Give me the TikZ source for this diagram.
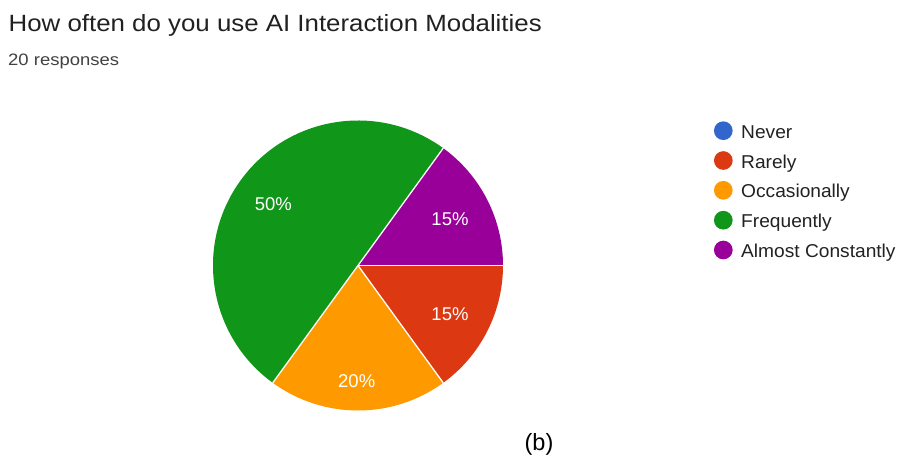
\documentclass[tikz,border=0pt]{standalone}
\usepackage{fontspec}
\setmainfont{Liberation Sans}
\newfontfamily\titlefont[FakeStretch=1.1]{Liberation Sans}
\newfontfamily\subfont[FakeStretch=1.12]{Liberation Sans}
\newfontfamily\legfont[FakeStretch=1.03]{Liberation Sans}
\definecolor{gNever}{HTML}{3366CC}
\definecolor{gRarely}{HTML}{DC3912}
\definecolor{gOccas}{HTML}{FF9900}
\definecolor{gFreq}{HTML}{109618}
\definecolor{gAlmost}{HTML}{990099}
\definecolor{inkdark}{HTML}{212121}
\definecolor{inklegend}{HTML}{222222}
\tikzset{
  titletext/.style={anchor=base west, inner sep=0pt, text=inkdark, font=\titlefont\fontsize{23.5}{28}\selectfont},
  subtext/.style={anchor=base west, inner sep=0pt, text=inkdark!85, font=\subfont\fontsize{16.5}{20}\selectfont},
  legdot/.style={circle, inner sep=0pt, minimum size=18.7pt},
  legtext/.style={anchor=base west, inner sep=0pt, text=inklegend, font=\legfont\fontsize{18.6}{22}\selectfont},
  slicetext/.style={inner sep=0pt, text=white, font=\fontsize{18.5}{22}\selectfont},
  sep/.style={white, line width=1.3pt}
}
\begin{document}
\begin{tikzpicture}[x=1pt, y=-1pt]
\useasboundingbox[fill=white] (0,0) rectangle (899,460);

% heading
\node[titletext] (title) at (8.5,31.7) {How often do you use AI Interaction Modalities};
\node[subtext] (resp) at (8,65.3) {20 responses};

% pie chart (angles counter-clockwise from east)
\begin{scope}[shift={(358,265.5)}, yscale=-1]
  \def\R{145}
  \fill[gRarely] (0,0) -- (-54:\R) arc[start angle=-54, end angle=0, radius=\R] -- cycle;
  \fill[gOccas] (0,0) -- (-126:\R) arc[start angle=-126, end angle=-54, radius=\R] -- cycle;
  \fill[gFreq] (0,0) -- (54:\R) arc[start angle=54, end angle=234, radius=\R] -- cycle;
  \fill[gAlmost] (0,0) -- (0:\R) arc[start angle=0, end angle=54, radius=\R] -- cycle;
  \coordinate (pc) at (0,0);
  \coordinate (b0) at (0:\R);
  \coordinate (b1) at (54:\R);
  \coordinate (b2) at (234:\R);
  \coordinate (b3) at (-54:\R);
\end{scope}
\draw[sep] (pc) -- (b0);
\draw[sep] (pc) -- (b1);
\draw[sep] (pc) -- (b2);
\draw[sep] (pc) -- (b3);

\node[slicetext] (pfreq) at (273.3,204.5) {50\%};
\node[slicetext] (palmost) at (450,219.5) {15\%};
\node[slicetext] (prarely) at (450,314) {15\%};
\node[slicetext] (poccas) at (356.7,381) {20\%};

% legend
\node[legdot, fill=gNever] (d1) at (723.3,130.7) {};
\node[legdot, fill=gRarely] (d2) at (723.3,160.5) {};
\node[legdot, fill=gOccas] (d3) at (723.3,190.3) {};
\node[legdot, fill=gFreq] (d4) at (723.3,220.2) {};
\node[legdot, fill=gAlmost] (d5) at (723.3,250) {};
\node[legtext] (l1) at (741,138.3) {Never};
\node[legtext] (l2) at (741,168.1) {Rarely};
\node[legtext] (l3) at (741,197.9) {Occasionally};
\node[legtext] (l4) at (741,227.8) {Frequently};
\node[legtext] (l5) at (741,257.6) {Almost Constantly};

% caption
\node[inner sep=0pt, font=\fontsize{23.5}{28}\selectfont] (cap) at (539,444) {(b)};
\end{tikzpicture}
\end{document}
